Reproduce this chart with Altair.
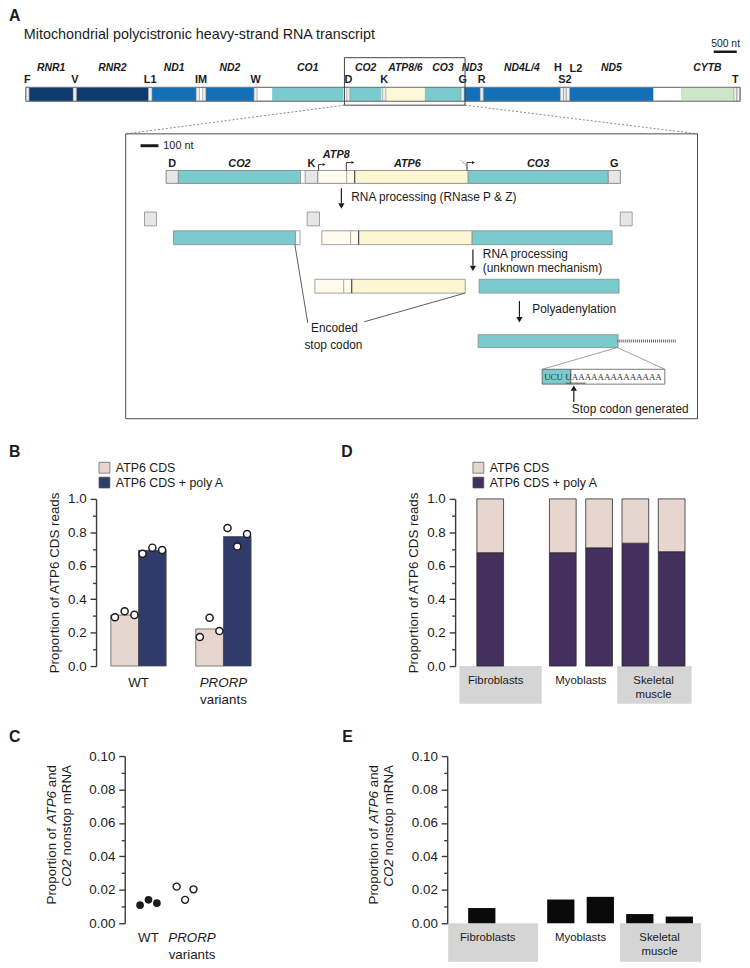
import altair as alt
import pandas as pd

FONT = "Liberation Sans"
SERIF = "Liberation Serif"
INK = "#1b1b1b"
AXC = "#3a3a3a"

# ======================= DATA =======================
# Panel A - human mitochondrial heavy-strand transcript (nucleotide coordinates)
gene_names = ["RNR1", "RNR2", "ND1", "ND2", "CO1", "CO2", "ATP8/6", "CO3", "ND3", "ND4L/4", "ND5", "CYTB"]
gene_start = [648, 1671, 3307, 4470, 5904, 7586, 8366, 9207, 10059, 10470, 12337, 14747]
gene_end = [1601, 3229, 4262, 5511, 7445, 8269, 9207, 9990, 10404, 12137, 14148, 15887]
gene_class = ["rRNA", "rRNA", "CI", "CI", "CIV", "CIV", "CV", "CIV", "CI", "CI", "CI", "CIII"]

trna_names = ["F", "V", "L1", "I", "M", "W", "D", "K", "G", "R", "H", "S2", "L2", "T", "P"]
trna_start = [577, 1602, 3230, 4263, 4402, 5512, 7518, 8295, 9991, 10405, 12138, 12207, 12266, 15888, 15956]
trna_end = [647, 1670, 3304, 4331, 4469, 5579, 7585, 8364, 10058, 10469, 12206, 12265, 12336, 15953, 16023]
trna_labels_low = ["F", "V", "L1", "IM", "W", "D", "K", "G", "R", "S2", "T"]
trna_labels_high = ["H", "L2"]

# Inset - CO2 ... CO3 region
inset_seg_names = ["D", "CO2", "K", "ATP8", "ATP6", "CO3", "G"]
inset_seg_start = [7518, 7586, 8295, 8366, 8572, 9207, 9991]
inset_seg_end = [7585, 8269, 8364, 8572, 9207, 9990, 10058]
inset_seg_kind = ["tRNA", "CO", "tRNA", "ATP8", "ATP6", "CO", "tRNA"]
atp_overlap = [8527, 8572]          # ATP6 start, ATP8 end

# Panel B
b_groups = ["WT", "PRORP variants"]
b_series = ["ATP6 CDS", "ATP6 CDS + poly A"]
b_bar_cds = [0.305, 0.222]
b_bar_polya = [0.692, 0.775]
b_rep_cds = [[0.292, 0.328, 0.306], [0.174, 0.289, 0.210]]
b_rep_polya = [[0.672, 0.708, 0.694], [0.826, 0.715, 0.790]]

# Panel C
c_groups = ["WT", "PRORP variants"]
c_rep = [[0.0108, 0.0140, 0.0120], [0.0219, 0.0140, 0.0203]]

# Panels D / E
tissue_samples = ["Fibroblasts 1", "Fibroblasts 2", "Myoblasts 1", "Myoblasts 2",
                  "Skeletal muscle 1", "Skeletal muscle 2"]
tissues = ["Fibroblasts", "Myoblasts", "Skeletal muscle"]
d_polya = [0.678, None, 0.678, 0.707, 0.735, 0.684]
d_cds = [0.322, None, 0.322, 0.293, 0.265, 0.316]
e_nonstop = [0.0091, None, 0.0142, 0.0158, 0.0055, 0.0040]

# ======================= LAYOUT HELPERS =======================
OFF = 8
W, H = 742, 960


def P(v):
    return v - OFF


def sc(domain, rng):
    return alt.Scale(domain=list(domain), range=list(rng), nice=False, zero=False)


PX = sc([OFF, OFF + W], [0, W])
PY = sc([OFF, OFF + H], [0, H])


def pdf(rows, cols):
    return pd.DataFrame(rows, columns=cols)


def ptext(rows, **mk):
    mk.setdefault("font", FONT)
    mk.setdefault("color", INK)
    mk.setdefault("baseline", "middle")
    return alt.Chart(pdf(rows, ["t", "x", "y"])).mark_text(**mk).encode(
        x=alt.X("x:Q", scale=PX, axis=None), y=alt.Y("y:Q", scale=PY, axis=None), text="t:N")


def prule(rows, **mk):
    return alt.Chart(pdf(rows, ["x", "y", "x2", "y2"])).mark_rule(**mk).encode(
        x=alt.X("x:Q", scale=PX, axis=None), y=alt.Y("y:Q", scale=PY, axis=None), x2="x2:Q", y2="y2:Q")


def prect(rows, **mk):
    return alt.Chart(pdf(rows, ["x", "y", "x2", "y2"])).mark_rect(**mk).encode(
        x=alt.X("x:Q", scale=PX, axis=None), y=alt.Y("y:Q", scale=PY, axis=None), x2="x2:Q", y2="y2:Q")


def ppoint(rows, shape, size):
    return alt.Chart(pdf(rows, ["x", "y"])).mark_point(shape=shape, filled=True, size=size, color=INK, opacity=1).encode(
        x=alt.X("x:Q", scale=PX, axis=None), y=alt.Y("y:Q", scale=PY, axis=None))


def y_major(x_left, values, fmt, title=None):
    d = dict(orient="left", offset=-P(x_left), values=values, format=fmt, tickSize=6, tickWidth=1.4,
             tickColor=AXC, domainColor=AXC, domainWidth=1.4, labelFontSize=13.5, labelColor=INK,
             labelPadding=4, labelOverlap=False, grid=False, zindex=1, labelFont=FONT)
    if title:
        d.update(title=title, titleFontSize=13.5, titleFontWeight="normal", titleColor=INK, titlePadding=6,
                 titleFont=FONT)
    else:
        d["title"] = None
    return alt.Axis(**d)


def y_minor(x_left, values):
    return alt.Axis(orient="left", offset=-P(x_left), values=values, labels=False, tickSize=3.5, tickWidth=1.4,
                    tickColor=AXC, domain=False, title=None, grid=False, zindex=1)


def x_axis(y_bottom, values):
    return alt.Axis(orient="bottom", offset=P(y_bottom) - H, values=values, labels=False, tickSize=6,
                    tickWidth=1.4, tickColor=AXC, domainColor=AXC, domainWidth=1.4, title=None, grid=False,
                    zindex=1)


# ======================= PANEL A : transcript =======================
A_X = sc([trna_start[0], trna_end[-1]], [P(26), P(748)])
GENE_COL = {"rRNA": "#0d3b6e", "CI": "#1370b7", "CIV": "#7acbcd", "CV": "#fdf8d7", "CIII": "#cbe6c8"}
genes_df = pd.DataFrame({"gene": gene_names, "s": gene_start, "e": gene_end, "cls": gene_class})
genes_df["mid"] = (genes_df["s"] + genes_df["e"]) / 2
trna_df = pd.DataFrame({"name": trna_names, "s": trna_start, "e": trna_end})
whole = pd.DataFrame({"s": [trna_start[0]], "e": [trna_end[-1]]})
tr = {n: (s, e) for n, s, e in zip(trna_names, trna_start, trna_end)}


def trna_mid(lbl):
    if lbl == "IM":
        return (tr["I"][0] + tr["M"][1]) / 2
    return sum(tr[lbl]) / 2


low_df = pd.DataFrame({"t": trna_labels_low, "x": [trna_mid(l) for l in trna_labels_low]})
hi_df = pd.DataFrame({"t": trna_labels_high, "x": [trna_mid(l) for l in trna_labels_high]})
zoom_df = pd.DataFrame({"s": [tr["D"][0] - 50], "e": [tr["G"][1] + 18]})
sbar_df = pd.DataFrame({"s": [tr["T"][1] - 500], "e": [tr["T"][1]], "t": ["500 nt"], "x": [trna_end[-1]]})


def ax(field):
    return alt.X(field, scale=A_X, axis=None)


BAR_Y = (alt.value(P(83)), alt.value(P(97)))
A_group = alt.layer(
    alt.Chart(whole).mark_rect(fill="white", stroke="#7a7a7a", strokeWidth=1).encode(
        x=ax("s:Q"), x2="e:Q", y=BAR_Y[0], y2=BAR_Y[1]),
    alt.Chart(genes_df).mark_rect().encode(
        x=ax("s:Q"), x2="e:Q", y=BAR_Y[0], y2=BAR_Y[1],
        fill=alt.Fill("cls:N", scale=alt.Scale(domain=list(GENE_COL), range=list(GENE_COL.values())),
                      legend=None)),
    alt.Chart(trna_df).mark_rect(fill="#eeeeee", stroke="#8a8a8a", strokeWidth=0.6).encode(
        x=ax("s:Q"), x2="e:Q", y=BAR_Y[0], y2=BAR_Y[1]),
    alt.Chart(whole).mark_rect(fillOpacity=0, stroke="#7a7a7a", strokeWidth=1).encode(
        x=ax("s:Q"), x2="e:Q", y=BAR_Y[0], y2=BAR_Y[1]),
    alt.Chart(genes_df).mark_text(font=FONT, fontSize=10.5, fontWeight="bold", fontStyle="italic",
                                  color=INK, baseline="middle").encode(
        x=ax("mid:Q"), y=alt.value(P(63)), text="gene:N"),
    alt.Chart(low_df).mark_text(font=FONT, fontSize=11, fontWeight="bold", color=INK,
                                baseline="middle").encode(x=ax("x:Q"), y=alt.value(P(76)), text="t:N"),
    alt.Chart(hi_df).transform_filter(alt.datum.t == "H").mark_text(
        font=FONT, fontSize=11, fontWeight="bold", color=INK, baseline="middle", dx=-4).encode(
        x=ax("x:Q"), y=alt.value(P(63)), text="t:N"),
    alt.Chart(hi_df).transform_filter(alt.datum.t == "L2").mark_text(
        font=FONT, fontSize=11, fontWeight="bold", color=INK, baseline="middle", dx=8).encode(
        x=ax("x:Q"), y=alt.value(P(64)), text="t:N"),
    alt.Chart(zoom_df).mark_rect(fillOpacity=0, stroke="#444444", strokeWidth=1).encode(
        x=ax("s:Q"), x2="e:Q", y=alt.value(P(53)), y2=alt.value(P(101))),
    alt.Chart(sbar_df).mark_rule(strokeWidth=2.5, color=INK).encode(
        x=ax("s:Q"), x2="e:Q", y=alt.value(P(47))),
    alt.Chart(sbar_df).mark_text(font=FONT, fontSize=10.5, color=INK, align="right", baseline="middle").encode(
        x=ax("x:Q"), y=alt.value(P(39)), text="t:N"),
)

# ======================= PANEL A : inset =======================
I_X = sc([tr["D"][0], tr["G"][1]], [P(168), P(627)])
NTPX = (tr["G"][1] - tr["D"][0]) / (627 - 168)
ROW = {"r1": (167, 180), "sq": (209, 223), "r2": (228, 242), "r3": (277, 291), "r4": (333, 346)}
KIND_COL = {"tRNA": "#e6e6e6", "CO": "#7acbcd", "ATP8": "#fefcee", "ATP6": "#fcf6d3", "UTR": "#ffffff"}
seg = {n: (s, e, k) for n, s, e, k in zip(inset_seg_names, inset_seg_start, inset_seg_end, inset_seg_kind)}
seg["UTR"] = (seg["CO2"][1], seg["K"][0] - 1, "UTR")
pieces_layout = [
    ("r1", "D", 0), ("r1", "CO2", 0), ("r1", "K", 0), ("r1", "ATP8", 0), ("r1", "ATP6", 0),
    ("r1", "CO3", 0), ("r1", "G", 0),
    ("sq", "D", -22), ("sq", "K", 2), ("sq", "G", 12),
    ("r2", "CO2", -5), ("r2", "UTR", -5), ("r2", "ATP8", 4), ("r2", "ATP6", 4), ("r2", "CO3", 4),
    ("r3", "ATP8", -3), ("r3", "ATP6", -3), ("r3", "CO3", 11),
    ("r4", "CO3", 10),
]
pieces = []
for row, name, sh in pieces_layout:
    s, e, k = seg[name]
    pieces.append({"x0": s + sh * NTPX, "x1": e + sh * NTPX, "y0": ROW[row][0], "y1": ROW[row][1], "kind": k})
pieces_df = pd.DataFrame(pieces)
base1 = pd.DataFrame({"x0": [tr["D"][0]], "x1": [tr["G"][1]], "y0": [ROW["r1"][0]], "y1": [ROW["r1"][1]]})
ov = []
for row, sh in [("r1", 0), ("r2", 4), ("r3", -3)]:
    ov.append({"x": atp_overlap[0] + sh * NTPX, "y0": ROW[row][0], "y1": ROW[row][1], "k": "a"})
    ov.append({"x": atp_overlap[1] + sh * NTPX, "y0": ROW[row][0], "y1": ROW[row][1], "k": "b"})
ov_df = pd.DataFrame(ov)


def smid(n):
    return (seg[n][0] + seg[n][1]) / 2


ins_lbl_b = pd.DataFrame({"t": ["D", "K", "G"], "x": [smid("D"), smid("K"), smid("G")], "y": [160] * 3})
ins_lbl_bi = pd.DataFrame({"t": ["CO2", "ATP6", "CO3", "ATP8"],
                           "x": [smid("CO2"), (atp_overlap[0] + seg["ATP6"][1]) / 2, smid("CO3"),
                                 (seg["ATP8"][0] + atp_overlap[1]) / 2],
                           "y": [160, 160, 160, 151]})
s100 = tr["D"][0] - (168 - 142) * NTPX
ins_sbar = pd.DataFrame({"s": [s100], "e": [s100 + 100]})


def ix(field):
    return alt.X(field, scale=I_X, axis=None)


def iy(field):
    return alt.Y(field, scale=PY, axis=None)


INS_group = alt.layer(
    alt.Chart(base1).mark_rect(fill="white", stroke="#8a8a8a", strokeWidth=0.8).encode(
        x=ix("x0:Q"), x2="x1:Q", y=iy("y0:Q"), y2="y1:Q"),
    alt.Chart(pieces_df).mark_rect(stroke="#8a8a8a", strokeWidth=0.8).encode(
        x=ix("x0:Q"), x2="x1:Q", y=iy("y0:Q"), y2="y1:Q",
        fill=alt.Fill("kind:N", scale=alt.Scale(domain=list(KIND_COL), range=list(KIND_COL.values())),
                      legend=None)),
    alt.Chart(ov_df).transform_filter(alt.datum.k == "a").mark_rule(color="#a8a8a8", strokeWidth=1).encode(
        x=ix("x:Q"), y=iy("y0:Q"), y2="y1:Q"),
    alt.Chart(ov_df).transform_filter(alt.datum.k == "b").mark_rule(color="#444444", strokeWidth=1).encode(
        x=ix("x:Q"), y=iy("y0:Q"), y2="y1:Q"),
    alt.Chart(ins_lbl_b).mark_text(font=FONT, fontSize=11, fontWeight="bold", color=INK,
                                   baseline="middle").encode(x=ix("x:Q"), y=iy("y:Q"), text="t:N"),
    alt.Chart(ins_lbl_bi).mark_text(font=FONT, fontSize=11, fontWeight="bold", fontStyle="italic", color=INK,
                                    baseline="middle").encode(x=ix("x:Q"), y=iy("y:Q"), text="t:N"),
    alt.Chart(ins_sbar).mark_rule(strokeWidth=3, color=INK).encode(
        x=ix("s:Q"), x2="e:Q", y=alt.value(P(142))),
)

# ======================= PANEL B =======================
BX = sc([0.5, 2.48], [P(97), P(267)])
BY = sc([0, 1], [P(668), P(499)])
B_BW, B_JIT = 0.326, 0.115
b_colors = ["#e7d6cf", "#303b69"]
rows = []
for gi, g in enumerate(b_groups):
    for si, vals in enumerate([b_bar_cds, b_bar_polya]):
        rows.append({"series": b_series[si], "v": vals[gi], "x0": gi + 1 + (si - 1) * B_BW,
                     "x1": gi + 1 + si * B_BW, "base": 0.0})
b_bars_df = pd.DataFrame(rows)
pts = []
for gi, g in enumerate(b_groups):
    for si, reps in enumerate([b_rep_cds, b_rep_polya]):
        for ri, v in enumerate(reps[gi]):
            pts.append({"x": gi + 1 + (si - 0.5) * B_BW + (ri - 1) * B_JIT, "v": v})
b_pts_df = pd.DataFrame(pts)
maj1 = [round(i * 0.2, 1) for i in range(6)]
min1 = [round(0.1 + i * 0.2, 1) for i in range(5)]

B_group = alt.layer(
    alt.Chart(b_bars_df).mark_rect(stroke="#4a4a4a", strokeWidth=0.7).encode(
        x=alt.X("x0:Q", scale=BX, axis=x_axis(668, [1, 2])), x2="x1:Q",
        y=alt.Y("v:Q", scale=BY, axis=y_major(97, maj1, ".1f", "Proportion of ATP6 CDS reads")), y2="base:Q",
        fill=alt.Fill("series:N", scale=alt.Scale(domain=b_series, range=b_colors), legend=None)),
    alt.Chart(pd.DataFrame({"v": min1})).mark_point(opacity=0).encode(
        y=alt.Y("v:Q", scale=BY, axis=y_minor(97, min1))),
    alt.Chart(b_pts_df).mark_circle(size=52, fill="white", stroke=INK, strokeWidth=1.5, opacity=1).encode(
        x=alt.X("x:Q", scale=BX, axis=None), y=alt.Y("v:Q", scale=BY, axis=None)),
    alt.Chart(pd.DataFrame({"t": ["WT"], "x": [1]})).mark_text(
        font=FONT, fontSize=13.5, color=INK, baseline="middle").encode(
        x=alt.X("x:Q", scale=BX, axis=None), y=alt.value(P(685)), text="t:N"),
    alt.Chart(pd.DataFrame({"t": ["PRORP"], "x": [2]})).mark_text(
        font=FONT, fontSize=13.5, fontStyle="italic", color=INK, baseline="middle").encode(
        x=alt.X("x:Q", scale=BX, axis=None), y=alt.value(P(685)), text="t:N"),
    alt.Chart(pd.DataFrame({"t": ["variants"], "x": [2]})).mark_text(
        font=FONT, fontSize=13.5, color=INK, baseline="middle").encode(
        x=alt.X("x:Q", scale=BX, axis=None), y=alt.value(P(702)), text="t:N"),
).resolve_axis(y="independent")

# ======================= PANEL C =======================
CX = sc([0.351, 2.351], [P(126), P(200)])
CY = sc([0, 0.1], [P(928), P(759)])
C_JIT = 0.23
c_pts = []
for gi, g in enumerate(c_groups):
    for ri, v in enumerate(c_rep[gi]):
        c_pts.append({"group": g, "x": gi + 1 + (ri - 1) * C_JIT, "v": v})
c_df = pd.DataFrame(c_pts)
maj2 = [round(i * 0.02, 2) for i in range(6)]
min2 = [round(0.01 + i * 0.02, 2) for i in range(5)]

C_group = alt.layer(
    alt.Chart(c_df).transform_filter(alt.datum.group == "WT").mark_circle(size=60, color=INK, opacity=1).encode(
        x=alt.X("x:Q", scale=CX, axis=x_axis(928, [1, 2])),
        y=alt.Y("v:Q", scale=CY, axis=y_major(126, maj2, ".2f"))),
    alt.Chart(pd.DataFrame({"v": min2})).mark_point(opacity=0).encode(
        y=alt.Y("v:Q", scale=CY, axis=y_minor(126, min2))),
    alt.Chart(c_df).transform_filter(alt.datum.group != "WT").mark_circle(
        size=50, fill="white", stroke=INK, strokeWidth=1.4, opacity=1).encode(
        x=alt.X("x:Q", scale=CX, axis=None), y=alt.Y("v:Q", scale=CY, axis=None)),
    alt.Chart(pd.DataFrame({"t": ["WT"], "x": [1]})).mark_text(
        font=FONT, fontSize=13.5, color=INK, baseline="middle").encode(
        x=alt.X("x:Q", scale=CX, axis=None), y=alt.value(P(943)), text="t:N"),
    alt.Chart(pd.DataFrame({"t": ["PRORP"], "x": [2]})).mark_text(
        font=FONT, fontSize=13.5, fontStyle="italic", color=INK, baseline="middle", dx=7).encode(
        x=alt.X("x:Q", scale=CX, axis=None), y=alt.value(P(943)), text="t:N"),
    alt.Chart(pd.DataFrame({"t": ["variants"], "x": [2]})).mark_text(
        font=FONT, fontSize=13.5, color=INK, baseline="middle", dx=7).encode(
        x=alt.X("x:Q", scale=CX, axis=None), y=alt.value(P(960)), text="t:N"),
).resolve_axis(y="independent")

# ======================= PANELS D & E =======================
slots = list(range(1, len(tissue_samples) + 1))
d_colors = ["#e7d6cf", "#44305c"]
TISSUE_BOX = {"Fibroblasts": (0.15, 2.42), "Skeletal muscle": (4.5, 6.55)}
TISSUE_LBL = {"Fibroblasts": 1.15, "Myoblasts": 3.5, "Skeletal muscle": 5.5}
box_df = pd.DataFrame([{"x0": a, "x1": b} for a, b in TISSUE_BOX.values()])
lbl_rows = []
for t in tissues:
    parts = t.split(" ")
    if len(parts) == 1:
        lbl_rows.append({"t": t, "x": TISSUE_LBL[t], "line": 0})
    else:
        lbl_rows.append({"t": parts[0], "x": TISSUE_LBL[t], "line": 0})
        lbl_rows.append({"t": " ".join(parts[1:]), "x": TISSUE_LBL[t], "line": 1})
tlbl_df = pd.DataFrame(lbl_rows)


def tissue_layers(XS, y_top, y_bot, y_l0, y_l1):
    return [
        alt.Chart(box_df).mark_rect(fill="#d5d5d5").encode(
            x=alt.X("x0:Q", scale=XS, axis=None), x2="x1:Q", y=alt.value(P(y_top)), y2=alt.value(P(y_bot))),
        alt.Chart(tlbl_df).transform_filter(alt.datum.line == 0).mark_text(
            font=FONT, fontSize=11.5, color=INK, baseline="middle").encode(
            x=alt.X("x:Q", scale=XS, axis=None), y=alt.value(P(y_l0)), text="t:N"),
        alt.Chart(tlbl_df).transform_filter(alt.datum.line == 1).mark_text(
            font=FONT, fontSize=11.5, color=INK, baseline="middle").encode(
            x=alt.X("x:Q", scale=XS, axis=None), y=alt.value(P(y_l1)), text="t:N"),
    ]


DX = sc([0.033, 6.93], [P(460), P(713)])
DY = sc([0, 1], [P(668), P(499)])
D_BW = 0.736
d_rows = []
for i, (p, c) in enumerate(zip(d_polya, d_cds)):
    if p is None:
        continue
    d_rows.append({"series": b_series[1], "x0": slots[i] - D_BW / 2, "x1": slots[i] + D_BW / 2, "y0": 0.0, "y1": p})
    d_rows.append({"series": b_series[0], "x0": slots[i] - D_BW / 2, "x1": slots[i] + D_BW / 2, "y0": p, "y1": p + c})
d_df = pd.DataFrame(d_rows)
d_ticks = [slots[i] for i, p in enumerate(d_polya) if p is not None]

D_group = alt.layer(
    *tissue_layers(DX, 668, 706, 683, 697),
    alt.Chart(d_df).mark_rect(stroke="#2a2a2a", strokeWidth=0.8).encode(
        x=alt.X("x0:Q", scale=DX, axis=x_axis(668, d_ticks)), x2="x1:Q",
        y=alt.Y("y1:Q", scale=DY, axis=y_major(460, maj1, ".1f", "Proportion of ATP6 CDS reads")), y2="y0:Q",
        fill=alt.Fill("series:N", scale=alt.Scale(domain=b_series, range=d_colors), legend=None)),
    alt.Chart(pd.DataFrame({"v": min1})).mark_point(opacity=0).encode(
        y=alt.Y("v:Q", scale=DY, axis=y_minor(460, min1))),
).resolve_axis(y="independent")

EX = sc([0.125, 6.66], [P(452), P(713)])
EY = sc([0, 0.1], [P(928), P(759)])
E_BW = 0.69
e_df = pd.DataFrame([{"x0": slots[i] - E_BW / 2, "x1": slots[i] + E_BW / 2, "v": v, "base": 0.0}
                     for i, v in enumerate(e_nonstop) if v is not None])
e_ticks = [slots[i] for i, v in enumerate(e_nonstop) if v is not None]

E_group = alt.layer(
    *tissue_layers(EX, 928, 967, 943, 957),
    alt.Chart(e_df).mark_rect(color="#0a0a0a").encode(
        x=alt.X("x0:Q", scale=EX, axis=x_axis(928, e_ticks)), x2="x1:Q",
        y=alt.Y("v:Q", scale=EY, axis=y_major(452, maj2, ".2f")), y2="base:Q"),
    alt.Chart(pd.DataFrame({"v": min2})).mark_point(opacity=0).encode(
        y=alt.Y("v:Q", scale=EY, axis=y_minor(452, min2))),
).resolve_axis(y="independent")

# ======================= PAGE DECORATIONS =======================
ARIAL = {' ': 278, 'a': 556, 'n': 556, 'd': 556, 'A': 667, 'T': 611, 'P': 667, '6': 556, 'C': 722, 'O': 778,
         '2': 556, 'r': 333, 'o': 556, 'p': 556, 't': 278, 'i': 222, 'f': 278, 's': 500, 'm': 833, 'R': 722,
         'N': 722, 'e': 556}


def tw(s, fs):
    return sum(ARIAL.get(ch, 556) for ch in s) * fs / 1000


FT = 13.5
TOP = 768
rot_norm, rot_ital = [], []
for x1, x2 in [(53, 68), (378, 393)]:
    a1 = TOP + tw("and", FT) + tw(" ", FT)
    a2 = a1 + tw("ATP6", FT) + tw(" ", FT)
    rot_norm += [("and", x1, TOP), ("Proportion of", x1, a2), ("nonstop mRNA", x2, TOP)]
    rot_ital += [("ATP6", x1, a1), ("CO2", x2, TOP + tw("nonstop mRNA", FT) + tw(" ", FT))]

PAGE_group = alt.layer(
    prect([(127, 130, 705, 418)], fillOpacity=0, stroke="#4a4a4a", strokeWidth=1),
    prule([(348, 101, 127, 130), (470, 101, 705, 130)], color="#666666", strokeWidth=0.8, strokeDash=[2, 2]),
    prule([(298, 242, 311, 321), (470, 291, 368, 320)], color="#333333", strokeWidth=0.8),
    prule([(624, 346, 548, 368), (624, 346, 672, 368)], color="#777777", strokeWidth=0.7),
    prule([(345, 185, 345, 200), (478, 247, 478, 263), (525, 299, 525, 315), (580, 401, 580, 390)],
          color=INK, strokeWidth=1.2),
    prule([(322, 167, 322, 161), (322, 161, 326, 161), (350, 167, 350, 159), (350, 159, 355, 159),
           (472, 167, 472, 159), (472, 159, 477, 159)], color=INK, strokeWidth=0.9),
    prule([(466, 157, 471, 162)], color=INK, strokeWidth=0.8, strokeDash=[1, 1]),
    prule([(624, 339.5, 684, 339.5)], color="#666666", strokeWidth=3, strokeDash=[1, 1]),
    ppoint([(345, 203), (478, 266), (525, 318)], "triangle-down", 40),
    ppoint([(580, 387)], "triangle-up", 40),
    ppoint([(327.5, 161), (356.5, 159), (478.5, 159)], "triangle-right", 10),
    prect([(548, 368, 577, 383)], fill="#7acbcd", stroke="#555555", strokeWidth=0.8),
    prect([(577, 368, 672, 383)], fill="white", stroke="#555555", strokeWidth=0.8),
    prule([(572, 382, 592, 382)], color="#555555", strokeWidth=1),
    prect([(100, 462, 111, 473)], fill=b_colors[0], stroke="#555555", strokeWidth=0.7),
    prect([(100, 477, 111, 488)], fill=b_colors[1], stroke="#555555", strokeWidth=0.7),
    prect([(478, 462, 489, 473)], fill=d_colors[0], stroke="#555555", strokeWidth=0.7),
    prect([(478, 477, 489, 488)], fill=d_colors[1], stroke="#555555", strokeWidth=0.7),
    ptext([("Mitochondrial polycistronic heavy-strand RNA transcript", 24, 30)], fontSize=14.5, align="left"),
    ptext([("A", 9, 11), ("B", 9, 452), ("C", 9, 740), ("D", 345, 452), ("E", 346, 740)],
          fontSize=16, fontWeight="bold", align="left"),
    ptext([("100 nt", 165, 142)], fontSize=11, align="left"),
    ptext([("RNA processing (RNase P & Z)", 355, 194), ("RNA processing", 488, 251),
           ("(unknown mechanism)", 488, 266), ("Polyadenylation", 538, 307),
           ("Stop codon generated", 578, 408)], fontSize=12, align="left"),
    ptext([("Encoded", 338, 326), ("stop codon", 337, 343)], fontSize=12, align="center"),
    ptext([(b_series[0], 117, 468), (b_series[1], 117, 483), (b_series[0], 495, 468), (b_series[1], 495, 483)],
          fontSize=12.5, align="left"),
    ptext([("UCU U", 550, 376), ("A" * 14, 578, 376)], font=SERIF, fontSize=9, align="left", color="#333333"),
    ptext(rot_norm, fontSize=FT, align="right", angle=270),
    ptext(rot_ital, fontSize=FT, align="right", angle=270, fontStyle="italic"),
)

chart = alt.layer(
    A_group, INS_group, B_group, C_group, D_group, E_group, PAGE_group
).resolve_scale(
    x="independent", y="independent", fill="independent", color="independent"
).resolve_axis(
    x="independent", y="independent"
).properties(
    width=W, height=H, padding=0, autosize=alt.AutoSizeParams(type="none")
).configure_view(
    stroke="transparent"
).configure_axis(
    labelFont=FONT, titleFont=FONT
)

chart.save("out.html", embed_options={"renderer": "svg", "actions": False})
